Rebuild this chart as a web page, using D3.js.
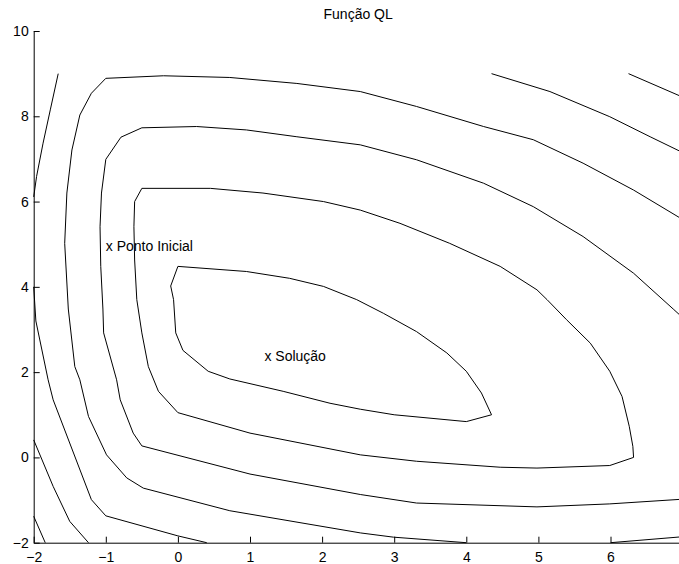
<!DOCTYPE html>
<html>
<head>
<meta charset="utf-8">
<script src="https://cdnjs.cloudflare.com/ajax/libs/d3/7.8.5/d3.min.js"></script>
<style>
	body { margin: 0; background: #fff; }
	svg text { font-family: "Liberation Sans", Arial, Helvetica, sans-serif; }
</style>
</head>
<body>
<div id="container"></div>
<script>
var title = "Função QL";
var xTicks = [-2, -1, 0, 1, 2, 3, 4, 5, 6, 7];
var yTicks = [-2, 0, 2, 4, 6, 8, 10];

// contour lines, [x, y] in data units
var levelA = [[0, 4.48], [-0.1, 4.02], [-0.06, 3.7], [-0.03, 2.92], [0.07, 2.51], [0.42, 2.02], [0.72, 1.84],
	[1.46, 1.55], [2.11, 1.27], [2.53, 1.13], [3, 1.0], [4, 0.84], [4.35, 1.0], [4.21, 1.51], [4.0, 2.02],
	[3.73, 2.45], [3.31, 2.95], [2.85, 3.38], [2.48, 3.7], [2.02, 4.01], [1.55, 4.2], [0.95, 4.36], [0, 4.48]];

var levelB = [[-0.5, 6.31], [-0.6, 6.0], [-0.61, 5.41], [-0.6, 4.63], [-0.57, 3.7], [-0.5, 2.92], [-0.41, 2.13],
	[-0.27, 1.55], [0, 1.05], [1.0, 0.57], [2.53, 0.06], [3.31, -0.09], [4.47, -0.23], [4.98, -0.25],
	[5.99, -0.19], [6.32, 0.0], [6.31, 0.26], [6.26, 0.73], [6.16, 1.43], [5.99, 2.02], [5.72, 2.68],
	[5.39, 3.23], [5.12, 3.7], [4.98, 3.93], [4.47, 4.48], [3.77, 5.02], [3.08, 5.49], [2.53, 5.8],
	[2.02, 6.0], [1.18, 6.2], [0.45, 6.31], [-0.5, 6.31]];

var levelC = [[7, 3.28], [6.87, 3.48], [6.32, 4.32], [5.62, 5.18], [4.93, 5.88], [4.24, 6.43], [3.31, 6.98],
	[2.53, 7.33], [1.65, 7.52], [0.95, 7.68], [0.26, 7.76], [-0.5, 7.73], [-0.79, 7.51], [-1.0, 6.99],
	[-1.06, 6.2], [-1.08, 5.41], [-1.07, 4.48], [-1.04, 3.48], [-1.03, 2.92], [-0.85, 1.82], [-0.8, 1.35],
	[-0.62, 0.57], [-0.5, 0.27], [1.0, -0.39], [2.53, -0.87], [3.31, -1.07], [4.98, -1.16], [5.99, -1.09],
	[7, -0.98]];

var levelD = [[7, 5.58], [6.32, 6.27], [5.62, 6.9], [4.93, 7.45], [4.24, 7.76], [3.31, 8.23], [2.53, 8.58],
	[1.65, 8.77], [0.72, 8.91], [-0.2, 8.95], [-1.0, 8.89], [-1.2, 8.54], [-1.36, 8.03], [-1.47, 7.21],
	[-1.54, 6.2], [-1.57, 5.02], [-1.52, 3.48], [-1.43, 2.13], [-1.36, 1.82], [-1.24, 0.96], [-0.99, 0.06],
	[-0.71, -0.48], [-0.48, -0.72], [0.72, -1.25], [2.53, -1.77], [2.99, -1.87], [4.0, -2.0]];
var levelDright = [[6.0, -2.0], [7, -1.86]];

var levelEtop = [[-1.66, 9.0], [-1.77, 8.15], [-1.87, 7.37], [-1.96, 6.59], [-2.0, 6.11]];
var levelElow = [[-2.0, 4.0], [-1.97, 3.2], [-1.8, 1.82], [-1.73, 1.35], [-1.2, -0.99], [-1.0, -1.37],
	[0.0, -1.84], [0.4, -2.0]];
var levelEright = [[4.35, 9.0], [5.16, 8.58], [5.99, 7.99], [6.55, 7.52], [7, 7.15]];

var levelF = [[-2.0, 0.41], [-1.73, -0.68], [-1.5, -1.5], [-1.24, -2.0]];
var levelFright = [[6.25, 9.0], [7, 8.45]];

var levelG = [[-2.0, -1.38], [-1.84, -2.0]];

var noteLabels = ["x Ponto Inicial", "x Solução"];
var noteX = [-1, 1.2];
var noteY = [5, 2.4];

var w = 679;
var h = 564;

var svg = d3.select("#container")
	.append("svg")
	.attr("width", w)
	.attr("height", h);

var x = d3.scaleLinear().domain([-2, 7]).range([33.7, 682.6]);
var y = d3.scaleLinear().domain([-2, 10]).range([542.7, 31]);

var lines = [levelA, levelB, levelC, levelD, levelDright, levelEtop, levelElow, levelEright,
	levelF, levelFright, levelG];

var line = d3.line()
	.x(function(d) { return x(d[0]); })
	.y(function(d) { return y(d[1]); });

svg.selectAll("path.contour")
	.data(lines)
	.enter()
	.append("path")
	.attr("class", "contour")
	.attr("d", line)
	.attr("fill", "none")
	.attr("stroke", "#000")
	.attr("stroke-width", 1);

//Axes, ticks pointing inside like matlab
var yAxis = svg.append("g")
	.attr("transform", "translate(" + x(-2) + ",0)")
	.call(d3.axisLeft(y).tickValues(yTicks).tickSizeInner(-6).tickSizeOuter(0).tickPadding(5));

var xAxis = svg.append("g")
	.attr("transform", "translate(0," + y(-2) + ")")
	.call(d3.axisBottom(x).tickValues(xTicks).tickSizeInner(-6).tickSizeOuter(0).tickPadding(9));

[yAxis, xAxis].forEach(function(g) {
	g.attr("font-size", 14).attr("font-family", null);
	g.selectAll("text").attr("fill", "#000");
	g.selectAll("line, path").attr("stroke", "#000");
});

svg.append("text")
	.attr("x", (x(-2) + x(7)) / 2)
	.attr("y", 19)
	.attr("text-anchor", "middle")
	.attr("font-size", 14)
	.text(title);

svg.selectAll("text.note")
	.data(noteLabels)
	.enter()
	.append("text")
	.attr("class", "note")
	.attr("x", function(d, i) { return x(noteX[i]); })
	.attr("y", function(d, i) { return y(noteY[i]); })
	.attr("dy", "0.45em")
	.attr("font-size", 14)
	.text(function(d) { return d; });
</script>
</body>
</html>
